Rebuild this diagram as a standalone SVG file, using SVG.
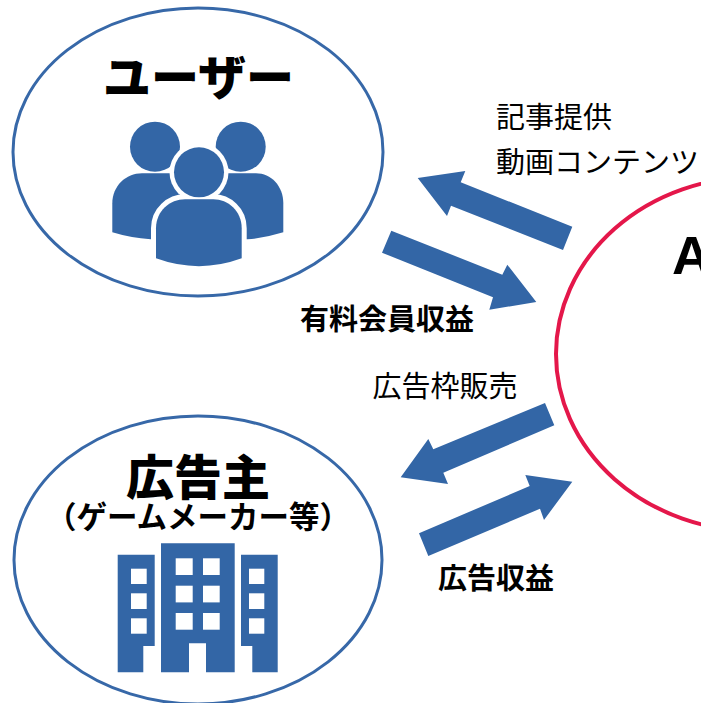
<svg xmlns="http://www.w3.org/2000/svg" width="701" height="703" viewBox="0 0 701 703">
<style>
text{font-family:"Noto Sans CJK JP","Liberation Sans",sans-serif;fill:#000}
.b{font-weight:700}
.l{font-size:29px}
.t{font-size:48px;font-weight:900}
.e{fill:#fff;stroke:#3768a8;stroke-width:3}
.i{fill:#3366a6}
.w{fill:#fff}
</style>
<rect width="701" height="703" fill="#fff"/>
<g id="node-user">
<ellipse class="e" cx="198" cy="152" rx="185" ry="144"/>
<text class="t" x="198.500" y="95" text-anchor="middle">ユーザー</text>
<g class="i">
<circle cx="155" cy="146.700" r="25"/>
<circle cx="240.700" cy="146.700" r="25"/>
<path d="M112.300 232.300V203.300C112.300 186 126 173.300 142 173.300H256C271 173.300 283.300 186 283.300 203.300V232.300Q265 238 247.300 239.300H150.700Q131 238 112.300 232.300Z"/>
</g>
<circle cx="199" cy="172.300" r="29.500" class="w"/>
<path class="i" d="M156 258.300V228.300C156 211 170 199.300 185 199.300H213.300C228 199.300 241.700 211 241.700 228.300V258.300Q199 274 156 258.300Z" stroke="#fff" stroke-width="10" paint-order="stroke"/>
<circle cx="199" cy="172.300" r="25" class="i"/>
</g>
<g id="node-advertiser">
<ellipse class="e" cx="198" cy="560" rx="184" ry="144"/>
<text class="t" x="198" y="495" text-anchor="middle">広告主</text>
<text class="b" x="198" y="528" text-anchor="middle" style="font-size:30.500px">（ゲームメーカー等）</text>
<path class="i" d="M161 543.300H234.700V672.300H206V643.300H189V672.300H161Z"/>
<path class="i" d="M117.700 554.700H154.700V646H143.300V672.300H117.700Z"/>
<path class="i" d="M241 554.700H277.700V672.300H252.300V646H241Z"/>
<g class="w">
<rect x="175.700" y="558.300" width="17" height="16.700"/><rect x="203" y="558.300" width="16.700" height="16.700"/>
<rect x="175.700" y="585.700" width="17" height="16.700"/><rect x="203" y="585.700" width="16.700" height="16.700"/>
<rect x="175.700" y="613" width="17" height="16.700"/><rect x="203" y="613" width="16.700" height="16.700"/>
<rect x="131" y="568.700" width="15.700" height="15.300"/><rect x="131" y="593.300" width="15.700" height="15.700"/><rect x="131" y="618.300" width="15.700" height="15.400"/>
<rect x="249" y="568.700" width="15.300" height="15.300"/><rect x="249" y="593.300" width="15.300" height="15.700"/><rect x="249" y="618.300" width="15.300" height="15.400"/>
</g>
</g>
<g id="node-a">
<ellipse cx="756" cy="354" rx="200" ry="177" fill="#fff" stroke="#e4174a" stroke-width="4"/>
<text x="672" y="274" style="font-family:'Liberation Sans',sans-serif;font-size:54px;font-weight:700">A</text>
</g>
<g id="connectors" class="i">
<path d="M417.700 178L465.300 171L460.700 182.300L572.300 226.700L563 250L451 205.700L447 216Z"/>
<path d="M391.300 230.700L382 252.700L493 297.300L489.300 309.700L536.300 302L507.300 264.700L502.300 274.700Z"/>
<path d="M545 403L554.300 425.300L443.300 472.700L448 484L400.700 477.300L428.300 439L433.300 449.300Z"/>
<path d="M419 533.300L428.300 556L540 508.700L544 520L572.300 481.700L525.300 475L529.700 486Z"/>
</g>
<g id="labels">
<text class="l" x="496" y="128">記事提供</text>
<text class="l" x="496" y="173">動画コンテンツ</text>
<text class="l b" x="300" y="330">有料会員収益</text>
<text class="l" x="372.500" y="397">広告枠販売</text>
<text class="l b" x="438" y="589">広告収益</text>
</g>
</svg>
